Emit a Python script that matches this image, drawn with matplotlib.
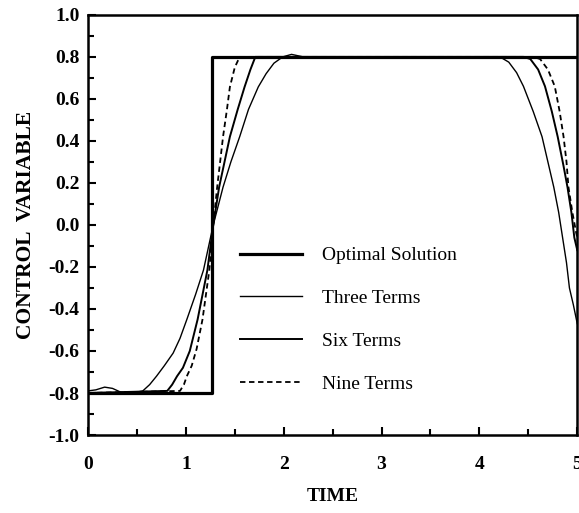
import matplotlib.pyplot as plt
from matplotlib.ticker import MultipleLocator

# optimal bang-bang control
t_opt = [0.0, 1.27, 1.27, 5.0]
u_opt = [-0.8, -0.8, 0.8, 0.8]

# three-term approximation
t_three = [0.0, 0.08, 0.17, 0.25, 0.33, 0.45, 0.56, 0.63, 0.70, 0.78, 0.87, 0.94, 1.01, 1.10, 1.18,
           1.28, 1.38, 1.46, 1.55, 1.64, 1.74, 1.82, 1.90, 1.99, 2.08, 2.20,
           4.10, 4.21, 4.30, 4.38, 4.45, 4.55, 4.64, 4.70, 4.76, 4.81, 4.85, 4.89, 4.92, 4.96, 5.0]
u_three = [-0.79, -0.785, -0.772, -0.778, -0.795, -0.80, -0.79, -0.76, -0.72, -0.67, -0.61, -0.54, -0.45, -0.33, -0.215,
           0.0, 0.18, 0.30, 0.42, 0.55, 0.657, 0.72, 0.77, 0.80, 0.812, 0.80,
           0.80, 0.80, 0.775, 0.725, 0.66, 0.54, 0.42, 0.30, 0.18, 0.06, -0.06, -0.18, -0.30, -0.38, -0.47]

# six-term approximation
t_six = [0.0, 0.81, 0.86, 0.91, 0.97, 1.04, 1.12, 1.22, 1.28, 1.34, 1.45, 1.53, 1.60, 1.66, 1.71, 1.80,
         4.45, 4.52, 4.60, 4.67, 4.74, 4.80, 4.86, 4.90, 4.94, 4.97, 5.0]
u_six = [-0.80, -0.79, -0.76, -0.72, -0.68, -0.60, -0.45, -0.215, 0.0, 0.18, 0.42, 0.55, 0.657, 0.74, 0.80, 0.80,
         0.80, 0.79, 0.74, 0.66, 0.54, 0.42, 0.28, 0.18, 0.06, -0.06, -0.12]

# nine-term approximation
t_nine = [0.0, 0.94, 0.98, 1.01, 1.06, 1.11, 1.17, 1.24, 1.28, 1.32, 1.38, 1.42, 1.45, 1.50, 1.55, 1.65,
          4.55, 4.62, 4.70, 4.77, 4.82, 4.86, 4.89, 4.91, 4.95, 4.99, 5.0]
u_nine = [-0.80, -0.79, -0.76, -0.72, -0.67, -0.59, -0.45, -0.215, 0.0, 0.18, 0.42, 0.55, 0.657, 0.75, 0.80, 0.80,
          0.80, 0.79, 0.74, 0.66, 0.54, 0.42, 0.30, 0.18, 0.06, -0.04, -0.06]

plt.rcParams['font.family'] = ['Liberation Serif', 'DejaVu Serif']

fig = plt.figure(figsize=(5.79, 5.13), dpi=100)
ax = fig.add_axes([0.152, 0.152, 0.845, 0.819])

ax.plot(t_opt, u_opt, color='black', lw=2.3, label='Optimal Solution', zorder=5)
ax.plot(t_three, u_three, color='black', lw=1.0, label='Three Terms')
ax.plot(t_six, u_six, color='black', lw=1.4, label='Six Terms')
ax.plot(t_nine, u_nine, color='black', lw=1.3, ls=(0, (3, 2)), label='Nine Terms')

ax.set_xlim(0, 5)
ax.set_ylim(-1.0, 1.0)
ax.xaxis.set_major_locator(MultipleLocator(1))
ax.xaxis.set_minor_locator(MultipleLocator(0.5))
ax.yaxis.set_major_locator(MultipleLocator(0.2))
ax.yaxis.set_minor_locator(MultipleLocator(0.1))
ax.yaxis.set_major_formatter(plt.FuncFormatter(lambda v, p: '%.1f' % v))
ax.tick_params(which='both', direction='in', top=False, right=False, width=1.5)
ax.tick_params(which='major', length=6, labelsize=14)
ax.tick_params(axis='y', which='major', pad=6)
ax.tick_params(axis='x', which='major', pad=15)
ax.tick_params(which='minor', length=4)
for lab in ax.get_xticklabels() + ax.get_yticklabels():
    lab.set_fontweight('bold')
for s in ax.spines.values():
    s.set_linewidth(1.8)

ax.set_xlabel('TIME', fontsize=14, fontweight='bold', labelpad=11)
ax.set_ylabel('CONTROL  VARIABLE', fontsize=15.5, fontweight='bold', labelpad=9)

ax.legend(loc='upper left', bbox_to_anchor=(0.31, 0.448), frameon=False, fontsize=14,
          handlelength=3.2, handletextpad=1.05, labelspacing=1.3, borderpad=0, borderaxespad=0)

fig.savefig('out.png', dpi=100)
